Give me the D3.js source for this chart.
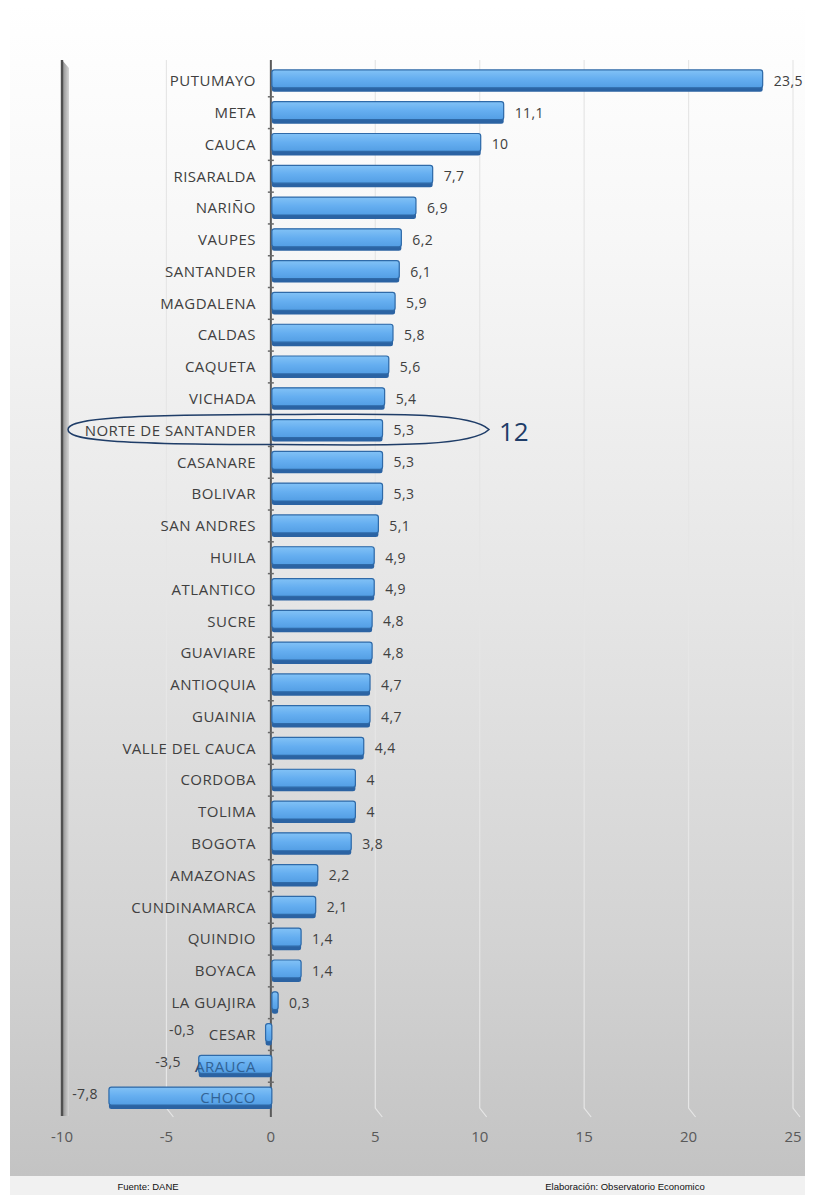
<!DOCTYPE html>
<html>
<head>
<meta charset="utf-8">
<script src="https://cdn.jsdelivr.net/npm/d3@7"></script>
<style>
  html, body { margin: 0; padding: 0; background: #ffffff; }
  svg { display: block; }
</style>
</head>
<body>
<svg id="chart" width="817" height="1195"></svg>
<script>
// Departments, ordered as drawn from top to bottom
const departments = [
  "PUTUMAYO", "META", "CAUCA", "RISARALDA", "NARIÑO", "VAUPES", "SANTANDER",
  "MAGDALENA", "CALDAS", "CAQUETA", "VICHADA", "NORTE DE SANTANDER", "CASANARE",
  "BOLIVAR", "SAN ANDRES", "HUILA", "ATLANTICO", "SUCRE", "GUAVIARE", "ANTIOQUIA",
  "GUAINIA", "VALLE DEL CAUCA", "CORDOBA", "TOLIMA", "BOGOTA", "AMAZONAS",
  "CUNDINAMARCA", "QUINDIO", "BOYACA", "LA GUAJIRA", "CESAR", "ARAUCA", "CHOCO"
];
// Growth values (%)
const values = [
  23.5, 11.1, 10, 7.7, 6.9, 6.2, 6.1, 5.9, 5.8, 5.6, 5.4, 5.3, 5.3, 5.3, 5.1,
  4.9, 4.9, 4.8, 4.8, 4.7, 4.7, 4.4, 4, 4, 3.8, 2.2, 2.1, 1.4, 1.4, 0.3,
  -0.3, -3.5, -7.8
];
const xTicks = [-10, -5, 0, 5, 10, 15, 20, 25];
const highlighted = "NORTE DE SANTANDER";
const sourceNote = "Fuente: DANE";
const authorNote = "Elaboración: Observatorio Economico";

const data = departments.map((d, i) => ({ name: d, value: values[i] }));
const fmt = v => String(v).replace(".", ",");
const FONT = "'Open Sans', sans-serif";

const svg = d3.select("#chart");
const defs = svg.append("defs");

// panel background: white fading to grey towards the bottom
const bg = defs.append("linearGradient").attr("id", "bg")
  .attr("x1", 0).attr("y1", 0).attr("x2", 0).attr("y2", 1);
[[0, "#ffffff"], [0.2, "#f7f7f7"], [0.5, "#e6e6e6"], [0.8, "#d3d3d3"], [1, "#c3c3c3"]]
  .forEach(([o, c]) => bg.append("stop").attr("offset", o).attr("stop-color", c));

// bar face gradient
const barG = defs.append("linearGradient").attr("id", "barFace")
  .attr("x1", 0).attr("y1", 0).attr("x2", 0).attr("y2", 1);
[[0, "#82c2f6"], [0.5, "#65aef0"], [1, "#539ee4"]]
  .forEach(([o, c]) => barG.append("stop").attr("offset", o).attr("stop-color", c));

// side wall shading
const wallG = defs.append("linearGradient").attr("id", "wall")
  .attr("x1", 0).attr("y1", 0).attr("x2", 1).attr("y2", 0);
[[0, "#8a8a8a"], [1, "#d6d6d6"]]
  .forEach(([o, c]) => wallG.append("stop").attr("offset", o).attr("stop-color", c));

svg.append("rect").attr("x", 10).attr("y", 4).attr("width", 795).attr("height", 1172)
  .attr("fill", "url(#bg)");
svg.append("rect").attr("x", 10).attr("y", 1176).attr("width", 795).attr("height", 19)
  .attr("fill", "#f1f1f1");

const x = d3.scaleLinear().domain([-10, 25]).range([62, 793]);
const y = d3.scaleBand().domain(departments).range([65, 1114]).paddingInner(0.31).paddingOuter(0.155);
const cy = d => y(d) + y.bandwidth() / 2;

const plotTop = 60, plotBottom = 1108;
const labelRight = 256;

// gridlines with a small bend at the floor
const grid = svg.append("g");
xTicks.filter(t => t !== 0 && t !== -10).forEach(t => {
  const gx = x(t);
  grid.append("path")
    .attr("d", `M${gx},${plotTop} L${gx},${plotBottom} L${gx + 7},${plotBottom + 9}`)
    .attr("fill", "none").attr("stroke", "#e6e6e6").attr("stroke-width", 1.2);
});

// left wall
svg.append("path")
  .attr("d", `M${x(-10)},${plotTop} L${x(-10) + 7},${plotTop + 8} L${x(-10) + 7},${plotBottom + 8} L${x(-10)},${plotBottom + 8} Z`)
  .attr("fill", "url(#wall)");
svg.append("line").attr("x1", x(-10)).attr("x2", x(-10)).attr("y1", plotTop).attr("y2", plotBottom + 8)
  .attr("stroke", "#505050").attr("stroke-width", 2.4);

// category labels
const catLabels = svg.append("g").selectAll("text").data(data).join("text")
  .attr("x", labelRight).attr("y", d => cy(d.name))
  .attr("dy", "0.35em").attr("text-anchor", "end")
  .attr("font-family", FONT).attr("font-size", 15).attr("letter-spacing", 0.5)
  .attr("fill", "#404040").text(d => d.name);
const labelWidth = new Map();
catLabels.each(function (d) { labelWidth.set(d.name, this.getComputedTextLength()); });

// zero axis with small ticks between rows
svg.append("line").attr("x1", x(0)).attr("x2", x(0)).attr("y1", plotTop).attr("y2", plotBottom + 9)
  .attr("stroke", "#5a5a5a").attr("stroke-width", 2);
svg.append("g").selectAll("line").data(departments.slice(1)).join("line")
  .attr("x1", x(0) - 3).attr("x2", x(0) + 3)
  .attr("y1", d => y(d) - y.step() * 0.155).attr("y2", d => y(d) - y.step() * 0.155)
  .attr("stroke", "#6a6a6a").attr("stroke-width", 1.5);

// bars: face, darker lower edge, outline
const depth = 4;
const bars = svg.append("g").selectAll("g").data(data).join("g");
bars.append("rect")
  .attr("x", d => Math.min(x(0), x(d.value)) + 1)
  .attr("y", d => y(d.name))
  .attr("width", d => Math.max(2, Math.abs(x(d.value) - x(0))))
  .attr("height", y.bandwidth())
  .attr("rx", 2.5)
  .attr("fill", "#2b63a3");
bars.append("rect")
  .attr("x", d => Math.min(x(0), x(d.value)) + 1)
  .attr("y", d => y(d.name))
  .attr("width", d => Math.max(2, Math.abs(x(d.value) - x(0))))
  .attr("height", y.bandwidth() - depth)
  .attr("rx", 2.5)
  .attr("fill", "url(#barFace)")
  .attr("stroke", "#2f6aa8").attr("stroke-width", 1.2);

// names that sit behind a negative bar show through it in blue
svg.append("g").selectAll("text")
  .data(data.filter(d => d.value < 0 && x(d.value) < labelRight - 10))
  .join("text")
  .attr("x", labelRight).attr("y", d => cy(d.name))
  .attr("dy", "0.35em").attr("text-anchor", "end")
  .attr("font-family", FONT).attr("font-size", 15).attr("letter-spacing", 0.5)
  .attr("fill", "#2a5686").attr("opacity", 0.85).text(d => d.name);

// value labels
svg.append("g").selectAll("text").data(data).join("text")
  .attr("x", d => d.value >= 0 ? x(d.value) + 12
    : Math.min(x(d.value) - 10, labelRight - labelWidth.get(d.name) - 14))
  .attr("y", d => cy(d.name) - (d.value < 0 ? 4 : 0))
  .attr("dy", "0.35em")
  .attr("text-anchor", d => d.value >= 0 ? "start" : "end")
  .attr("font-family", FONT).attr("font-size", 14).attr("letter-spacing", 0.4)
  .attr("fill", "#404040").text(d => fmt(d.value));

// x axis tick labels
svg.append("g").selectAll("text").data(xTicks).join("text")
  .attr("x", d => x(d)).attr("y", 1137).attr("dy", "0.35em")
  .attr("text-anchor", "middle")
  .attr("font-family", FONT).attr("font-size", 15)
  .attr("fill", "#595959").text(d => d);

// highlighted department and its rank
const hi = departments.indexOf(highlighted);
const hy = cy(highlighted) - 1;
const ex0 = 68, ex1 = 489, ecx = (ex0 + ex1) / 2, erx = (ex1 - ex0) / 2, ery = 15;
svg.append("path")
  .attr("d", `M${ex1},${hy} C${ex1 - 20},${hy - ery * 1.3} ${ecx + erx * 0.4},${hy - ery} ${ecx},${hy - ery}
    C${ex0 + 30},${hy - ery} ${ex0},${hy - ery * 0.6} ${ex0},${hy}
    C${ex0},${hy + ery * 0.6} ${ex0 + 30},${hy + ery} ${ecx},${hy + ery}
    C${ecx + erx * 0.4},${hy + ery} ${ex1 - 20},${hy + ery * 1.3} ${ex1},${hy} Z`)
  .attr("fill", "none").attr("stroke", "#1f3d68").attr("stroke-width", 1.5);
svg.append("text").attr("x", 499).attr("y", hy + 2).attr("dy", "0.35em")
  .attr("font-family", FONT).attr("font-size", 26)
  .attr("fill", "#1f3d68").text(hi + 1);

// footer notes
svg.append("text").attr("x", 148).attr("y", 1190).attr("text-anchor", "middle")
  .attr("font-family", "'Liberation Sans', Arial, sans-serif").attr("font-size", 9.5)
  .attr("fill", "#111").text(sourceNote);
svg.append("text").attr("x", 625).attr("y", 1190).attr("text-anchor", "middle")
  .attr("font-family", "'Liberation Sans', Arial, sans-serif").attr("font-size", 9.5)
  .attr("fill", "#111").text(authorNote);
</script>
</body>
</html>
